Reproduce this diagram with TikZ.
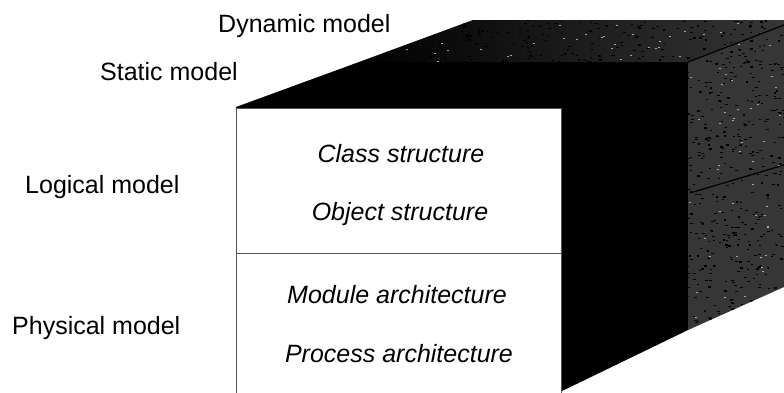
\documentclass[tikz,border=0pt]{standalone}
\usepackage{fontspec}
\setmainfont{Liberation Sans}
\definecolor{facegray}{HTML}{363636}
\definecolor{edgegray}{HTML}{555555}
\begin{document}
\begin{tikzpicture}[x=1pt,y=-1pt,
  lbl/.style={font=\fontsize{25}{30}\selectfont, inner sep=0pt, anchor=base west},
  itl/.style={font=\fontsize{25}{30}\selectfont\itshape, inner sep=0pt, anchor=base},
  panel/.style={fill=white, draw=edgegray, line width=1pt}]
\useasboundingbox (0,0) rectangle (784,392);
% front (black) part of the solid
\fill[black] (236,107) -- (359,62) -- (688,62) -- (688,330) -- (560,392) -- (236,392) -- cycle;
% top face
\shade[left color=black, middle color=facegray!85!black, right color=facegray]
  (359,62) -- (473,20) -- (784,20) -- (784,25) -- (688,62) -- cycle;
% right face
\fill[facegray] (688,62) -- (784,25) -- (784,287) -- (688,330) -- cycle;
% speckles
\begin{scope}
  \clip (359,62) -- (473,20) -- (784,20) -- (784,287) -- (688,330) -- (688,62) -- cycle;
  \pgfmathsetseed{11}
  \foreach \i in {1,...,1800}{
    \pgfmathsetmacro\rx{400+rnd*384}
    \pgfmathsetmacro\ry{20+rnd*320}
    \fill[black] (\rx,\ry) rectangle ++(2.5,1.2);
  }
  \foreach \i in {1,...,300}{
    \pgfmathsetmacro\rx{400+rnd*384}
    \pgfmathsetmacro\ry{20+rnd*320}
    \fill[gray!70] (\rx,\ry) rectangle ++(2,1);
  }
\end{scope}
\draw[black, line width=1.2pt] (688,62) -- (784,25);
\draw[black, line width=1.2pt] (690,193) -- (784,165);
% white panels
\draw[panel] (236,108) rectangle (561,253);
\draw[panel] (236,253) rectangle (561,393);
% texts
\node[lbl] (dyn) at (218,32) {Dynamic model};
\node[lbl] (stat) at (100,80) {Static model};
\node[lbl] (logical) at (25,193) {Logical model};
\node[lbl] (physical) at (12,334) {Physical model};
\node[itl] (class) at (401,162) {Class structure};
\node[itl] (object) at (400,220) {Object structure};
\node[itl] (module) at (397,303) {Module architecture};
\node[itl] (process) at (399,362) {Process architecture};
\end{tikzpicture}
\end{document}
